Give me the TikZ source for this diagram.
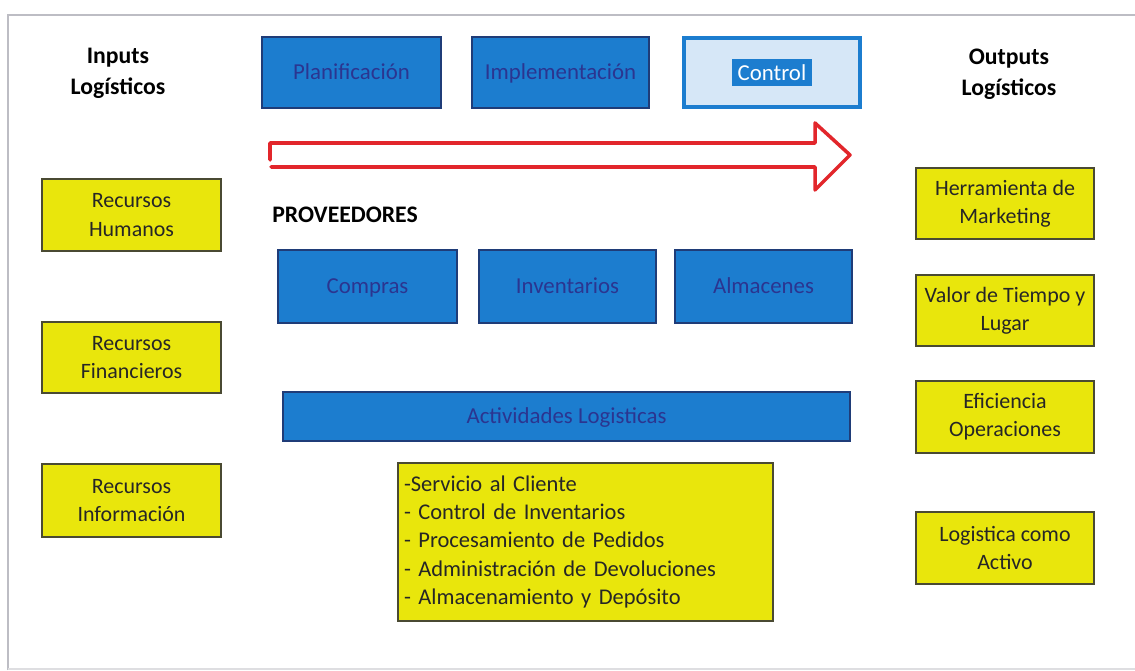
\documentclass[tikz,border=0pt]{standalone}
\usepackage{fontspec}
\setmainfont{Carlito}
\definecolor{boxblue}{HTML}{1C7DCF}
\definecolor{blueedge}{HTML}{1F3C78}
\definecolor{bluetext}{HTML}{2B3590}
\definecolor{boxyellow}{HTML}{E9E60C}
\definecolor{yellowedge}{HTML}{4A4A32}
\definecolor{ctrlfill}{HTML}{D6E7F7}
\definecolor{arrowred}{HTML}{E2262B}
\definecolor{framegray}{HTML}{BDBDC4}
\tikzset{
  x=0.02cm, y=-0.02cm,
  bluebox/.style={draw=blueedge, line width=0.8pt, fill=boxblue, text=bluetext,
    inner sep=0pt, align=center, text height=1.9ex, text depth=0.2ex,
    font=\fontsize{13}{15}\selectfont},
  yellowbox/.style={draw=yellowedge, line width=0.8pt, fill=boxyellow, text=black!85,
    inner sep=0pt, align=center, font=\fontsize{12.5}{16}\selectfont},
  heading/.style={inner sep=0pt, align=center, font=\fontsize{13.5}{17.5}\selectfont\bfseries},
  flowarrow/.style={draw=arrowred, line width=2pt, line join=round, line cap=round},
}
\begin{document}
\begin{tikzpicture}
% page and frame
\fill[white] (0,0) rectangle (1135,671);
\useasboundingbox (0,0) rectangle (1135,671);
\draw[framegray, line width=1.4pt] (8,670) -- (8,15) -- (1135,15);
\draw[framegray!50, line width=0.8pt] (8,669) -- (1135,669);

% column headings
\node[heading] (inhead) at (118,73) {Inputs\\Logísticos};
\node[heading] (outhead) at (1009,74) {Outputs\\Logísticos};
\node[heading, anchor=west] (prov) at (272,215) {PROVEEDORES};

% management stages
\node[bluebox, minimum width=179*0.02cm, minimum height=71*0.02cm] (plan) at (351.5,72.5) {Planificación};
\node[bluebox, minimum width=177*0.02cm, minimum height=71*0.02cm] (impl) at (560.5,72.5) {Implementación};
\node[draw=boxblue, line width=2.2pt, fill=ctrlfill, inner sep=0pt,
      minimum width=176*0.02cm, minimum height=69*0.02cm,
      font=\fontsize{13}{15}\selectfont] (ctrl) at (772,72.5)
      {\colorbox{boxblue}{\textcolor{white}{Control}}};

% flow arrow
\draw[flowarrow] (270,160) -- (270,143) -- (815,143) -- (815,123) -- (850,155)
  -- (815,190) -- (815,167) -- (271,167);

% inputs
\node[yellowbox, minimum width=179*0.02cm, minimum height=72*0.02cm] (rh) at (131.5,215) {Recursos\\Humanos};
\node[yellowbox, minimum width=179*0.02cm, minimum height=71*0.02cm] (rf) at (131.5,357.5) {Recursos\\Financieros};
\node[yellowbox, minimum width=179*0.02cm, minimum height=73*0.02cm] (ri) at (131.5,500.5) {Recursos\\Información};

% supplier functions
\node[bluebox, minimum width=179*0.02cm, minimum height=73*0.02cm] (compras) at (367.5,286.5) {Compras};
\node[bluebox, minimum width=177*0.02cm, minimum height=73*0.02cm] (inv) at (567.5,286.5) {Inventarios};
\node[bluebox, minimum width=177*0.02cm, minimum height=73*0.02cm] (alm) at (763.5,286.5) {Almacenes};

% logistic activities
\node[bluebox, minimum width=567*0.02cm, minimum height=49*0.02cm] (act) at (566.5,416.5) {Actividades Logisticas};
\node[yellowbox, minimum width=375*0.02cm, minimum height=158*0.02cm, align=left,
      text width=363*0.02cm, font=\fontsize{12.8}{16}\selectfont] (list) at (585.5,542)
  {-Servicio al Cliente\\
   - Control de Inventarios\\
   - Procesamiento de Pedidos\\
   - Administración de Devoluciones\\
   - Almacenamiento y Depósito};

% outputs
\node[yellowbox, minimum width=178*0.02cm, minimum height=71*0.02cm] (o1) at (1005,203.5) {Herramienta de\\Marketing};
\node[yellowbox, minimum width=178*0.02cm, minimum height=71*0.02cm] (o2) at (1005,310.5) {Valor de Tiempo y\\Lugar};
\node[yellowbox, minimum width=178*0.02cm, minimum height=72*0.02cm] (o3) at (1005,417) {Eficiencia\\Operaciones};
\node[yellowbox, minimum width=178*0.02cm, minimum height=72*0.02cm] (o4) at (1005,548) {Logistica como\\Activo};
\end{tikzpicture}
\end{document}
